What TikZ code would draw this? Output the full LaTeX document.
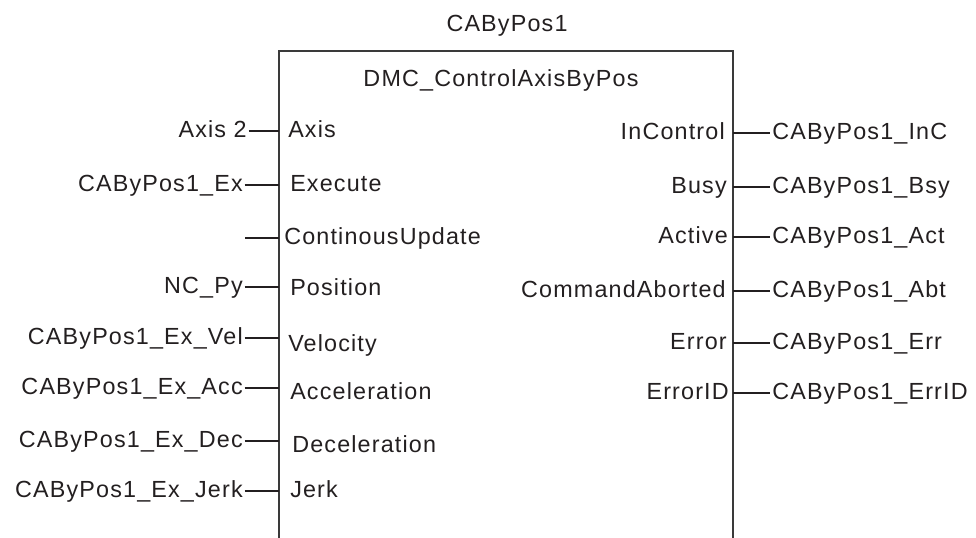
\documentclass[tikz,border=0pt]{standalone}
\usepackage{fontspec}
\setmainfont[LetterSpace=5]{Liberation Sans}
\begin{document}
\begin{tikzpicture}[x=0.75pt,y=-0.75pt,
  txt/.style={inner sep=0pt,text height=0.72em,text depth=0pt,text=ink,yshift=-1.5pt,font=\fontsize{17.5}{20}\selectfont},
  var/.style={txt,anchor=east},
  pinL/.style={txt,anchor=west},
  pinR/.style={txt,anchor=east},
  varR/.style={txt,anchor=west},
  wire/.style={draw=ink,line width=1pt},
  fb/.style={draw=edge,line width=1.4pt}]
\definecolor{ink}{HTML}{231F20}
\definecolor{edge}{HTML}{3A3A3A}
\useasboundingbox (0,0) rectangle (976,538);
% block outline (open at the bottom)
\coordinate (bl) at (279,540);
\coordinate (tl) at (279,51);
\coordinate (tr) at (733,51);
\coordinate (br) at (733,540);
\draw[fb] (bl) -- (tl) -- (tr) -- (br);
\node[txt] (inst) at (507,25) {CAByPos1};
\node[txt] (fbname) at (501,80) {DMC\_ControlAxisByPos};
% inputs
\node[var] (vAxis) at (247,131) {Axis 2};
\node[var] (vEx) at (243,185) {CAByPos1\_Ex};
\coordinate (vCU) at (245,238);
\node[var] (vPos) at (243,287) {NC\_Py};
\node[var] (vVel) at (243,338) {CAByPos1\_Ex\_Vel};
\node[var] (vAcc) at (243,388) {CAByPos1\_Ex\_Acc};
\node[var] (vDec) at (243,441) {CAByPos1\_Ex\_Dec};
\node[var] (vJerk) at (243,491) {CAByPos1\_Ex\_Jerk};
\foreach \n/\y in {Axis/131,Ex/185,CU/238,Pos/287,Vel/338,Acc/388,Dec/441,Jerk/491}
  \coordinate (in\n) at (279,\y);
\node[pinL] (pAxis) at (288,131) {Axis};
\node[pinL] (pEx) at (290,185) {Execute};
\node[pinL] (pCU) at (284,238) {ContinousUpdate};
\node[pinL] (pPos) at (290,289) {Position};
\node[pinL] (pVel) at (288,345) {Velocity};
\node[pinL] (pAcc) at (290,393) {Acceleration};
\node[pinL] (pDec) at (292,446) {Deceleration};
\node[pinL] (pJerk) at (290,491) {Jerk};
\foreach \n in {Axis,Ex,Pos,Vel,Acc,Dec,Jerk}
  \draw[wire] ([xshift=1.2pt]in\n -| v\n.east) -- (in\n);
\draw[wire] (vCU) -- (inCU);
% outputs
\foreach \n/\y in {InC/133,Bsy/187,Act/237,Abt/291,Err/343,ErrID/393}
  \coordinate (out\n) at (733,\y);
\node[pinR] (pInC) at (725,133) {InControl};
\node[pinR] (pBsy) at (727,187) {Busy};
\node[pinR] (pAct) at (728,237) {Active};
\node[pinR] (pAbt) at (726,291) {CommandAborted};
\node[pinR] (pErr) at (727,343) {Error};
\node[pinR] (pErrID) at (729,393) {ErrorID};
\node[varR] (vInC) at (772,133) {CAByPos1\_InC};
\node[varR] (vBsy) at (772,187) {CAByPos1\_Bsy};
\node[varR] (vAct) at (772,237) {CAByPos1\_Act};
\node[varR] (vAbt) at (772,291) {CAByPos1\_Abt};
\node[varR] (vErr) at (772,343) {CAByPos1\_Err};
\node[varR] (vErrID) at (772,393) {CAByPos1\_ErrID};
\foreach \n in {InC,Bsy,Act,Abt,Err,ErrID}
  \draw[wire] (out\n) -- ([xshift=-1.5pt]out\n -| v\n.west);
\end{tikzpicture}
\end{document}
